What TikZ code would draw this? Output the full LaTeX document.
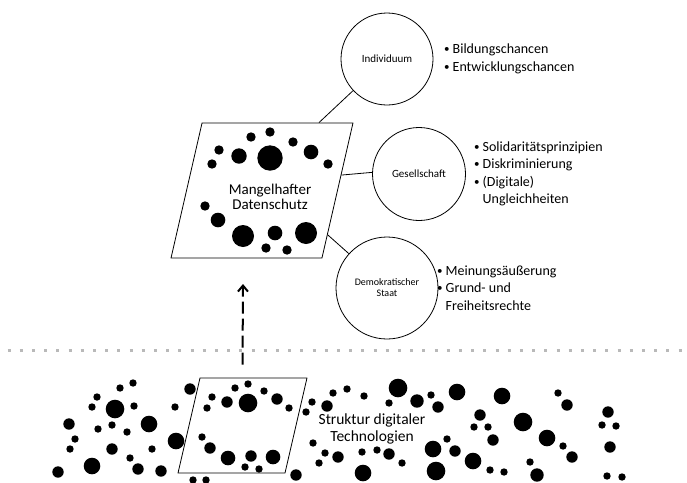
\documentclass[tikz,border=0pt]{standalone}
\usepackage{fontspec}
\setmainfont{Carlito}
\usetikzlibrary{shapes.geometric,arrows.meta}

\newcommand{\punkt}{\raisebox{0.8pt}{\fontsize{11}{11}\selectfont\textbullet}}

\tikzset{
    sphere/.style={draw, circle, line width=0.8pt, inner sep=0pt, align=center},
    plate/.style={draw, trapezium, trapezium left angle=75.5, trapezium right angle=104.5,
        trapezium stretches=true, line width=0.8pt, inner sep=2pt},
    bullets/.style={anchor=west, inner sep=0pt, font=\fontsize{14}{17.5}\selectfont},
    link/.style={line width=0.8pt}
}

\begin{document}
\begin{tikzpicture}[x=1pt,y=-1pt]

        \useasboundingbox (0,0) rectangle (687,482);

        %upper plate with the dots
        \node[plate, minimum width=182pt, minimum height=135pt] (datenschutz) at (262,190.5) {};
        \foreach \x/\y/\r in {270/132/4.7, 251/137/4.7, 293/142/4.7, 219/150/4.7, 239/156/7.7,
                270/158/12.7, 311/152/7.3, 212/164/4.7, 328/164/4.7, 205/206/4.7, 218/220/7.3,
                243/236/11, 275/233/7.3, 306/233/11, 266/248/4.7, 287/250/4.7}
            \fill (\x,\y) circle (\r pt);
        \node[font=\fontsize{15}{15.5}\selectfont, align=center] (mangel) at (270,197) {Mangelhafter\\Datenschutz};

        %the three circles
        \node[sphere, minimum size=92pt, font=\fontsize{11}{13}\selectfont] (individuum) at (387,59) {Individuum};
        \node[sphere, minimum size=93pt, font=\fontsize{11}{13}\selectfont] (gesellschaft) at (419,174) {Gesellschaft};
        \node[sphere, minimum size=102pt, font=\fontsize{10}{11}\selectfont] (staat) at (387,288) {Demokratischer\\Staat};

        %lines from the plate to the circles
        \draw[link] (datenschutz.50) -- (individuum.223);
        \draw[link] (datenschutz.11) -- (gesellschaft.178);
        \draw[link] (datenschutz.-34) -- (staat.138);

        %bullet lists
        \node[bullets] (individuumliste) at (444,59) {\begin{tabular}{@{}l@{\hspace{3pt}}l@{}}
            \punkt & Bildungschancen\\ \punkt & Entwicklungschancen\end{tabular}};
        \node[bullets] (gesellschaftliste) at (474,174) {\begin{tabular}{@{}l@{\hspace{3pt}}l@{}}
            \punkt & Solidaritätsprinzipien\\ \punkt & Diskriminierung\\
            \punkt & (Digitale)\\ & Ungleichheiten\end{tabular}};
        \node[bullets] (staatliste) at (437,289) {\begin{tabular}{@{}l@{\hspace{3pt}}l@{}}
            \punkt & Meinungsäußerung\\ \punkt & Grund- und\\ & Freiheitsrechte\end{tabular}};

        %dotted separating line
        \draw[gray!55, line width=3pt, dash pattern=on 3pt off 9.2pt] (7.5,350) -- (687,350);

        %lower plate
        \node[plate, minimum width=129pt, minimum height=95pt] (technik) at (242.5,425.5) {};
        \foreach \x/\y/\r in {248/384/3.7, 235/388/3.7, 264/391/3.7, 212/397/3.7, 207/408/3.7,
                227/402/5.7, 248/403/9.3, 277/399/5.7, 289/408/3.7, 202/437/3.7, 210/448/5.7,
                228/458/7.3, 251/456/5.7, 273/457/7.3, 245/467/3.7, 259/469/3.7}
            \fill (\x,\y) circle (\r pt);
        \node[font=\fontsize{15.5}{17}\selectfont, align=center] (strukturtext) at (372,428.5) {Struktur digitaler\\Technologien};

        %dashed arrow up to the plate
        \coordinate (spitze) at (243,284);
        \draw[line width=2pt, dash pattern=on 12pt off 5pt, -{Straight Barb[length=6pt,width=10pt]}]
            ([yshift=13pt]technik.north) -- (spitze);

        %dots left of the lower plate
        \foreach \x/\y/\r in {190/389/5.7, 133/383/3.7, 120/388/3.7, 97/397/3.7, 92/407/3.7,
                115/409/9.3, 134/406/3.7, 175/407/3.7, 69/424/5.7, 98/429/3.7, 112/425/3.7,
                127/432/3.7, 149/424/8.3, 75/439/3.7, 70/449/3.7, 112/449/5.7, 152/449/3.7,
                176/441/8.3, 130/458/3.7, 58/472/5.7, 92/466/8.3, 138/469/5.7, 161/471/5.7,
                193/480/3.7, 206/480/3.7}
            \fill (\x,\y) circle (\r pt);

        %dots right of the lower plate
        \foreach \x/\y/\r in {296/475/5.7, 312/402/3.7, 306/412/3.7, 327/406/5.7, 333/393/3.7,
                347/389/3.7, 313/443/3.7, 325/453/3.7, 338/457/5.7, 319/463/3.7,
                364/396/3.7, 398/388/9.3, 389/403/3.7, 417/401/6.7, 431/395/3.7, 438/407/5.7,
                457/392/8.3, 502/396/8.3, 558/393/3.7, 567/405/5.7, 480/415/5.7, 474/427/3.7,
                488/427/3.7, 493/440/5.7, 523/422/9.3, 547/438/8.3, 563/446/3.7, 572/457/5.7,
                608/412/5.7, 602/425/3.7, 616/426/3.7, 610/447/5.7, 607/476/3.7, 622/477/3.7,
                447/439/3.7, 433/449/8.3, 455/451/5.7, 473/461/8.3, 490/470/3.7, 504/472/3.7,
                530/462/3.7, 537/475/6.7, 436/471/9.3, 362/452/3.7, 377/450/3.7, 389/454/5.7,
                402/463/3.7, 363/473/8.3}
            \fill (\x,\y) circle (\r pt);

\end{tikzpicture}
\end{document}
